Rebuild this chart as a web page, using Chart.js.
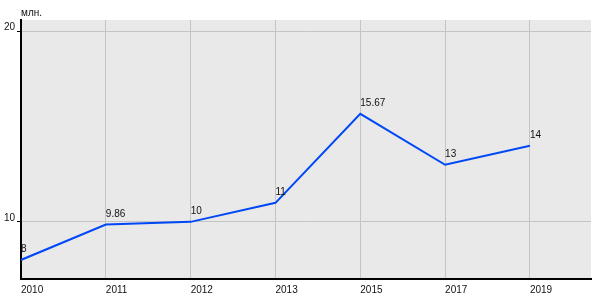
<!DOCTYPE html>
<html>
<head>
<meta charset="utf-8">
<script src="https://cdn.jsdelivr.net/npm/chart.js@4.4.1/dist/chart.umd.min.js"></script>
<style>
  html, body { margin: 0; padding: 0; background: #fff; }
  #wrap { width: 600px; height: 300px; }
</style>
</head>
<body>
<div id="wrap"><canvas id="revenueChart"></canvas></div>
<script>
// chart data
const years = ['2010', '2011', '2012', '2013', '2015', '2017', '2019'];
const values = [8, 9.86, 10, 11, 15.67, 13, 14];
const valueLabels = ['8', '9.86', '10', '11', '15.67', '13', '14'];
const yTicks = [10, 20];
const unitLabel = 'млн.';

const FONT = 'Liberation Sans, Arial, sans-serif';

// grey plot background + unit caption
const plotBackground = {
    id: 'plotBackground',
    beforeDraw(chart) {
        const { ctx, chartArea } = chart;
        ctx.save();
        ctx.fillStyle = '#e9e9e9';
        ctx.fillRect(chartArea.left, chartArea.top, chartArea.right - chartArea.left, chartArea.bottom - chartArea.top);
        ctx.fillStyle = '#111';
        ctx.font = '10px ' + FONT;
        ctx.textBaseline = 'middle';
        ctx.fillText(unitLabel, chartArea.left, chartArea.top - 7);
        ctx.restore();
    }
};

// value labels above each point
const pointLabels = {
    id: 'pointLabels',
    afterDatasetsDraw(chart) {
        const { ctx } = chart;
        const meta = chart.getDatasetMeta(0);
        ctx.save();
        ctx.fillStyle = '#111';
        ctx.font = '10px ' + FONT;
        ctx.textAlign = 'left';
        ctx.textBaseline = 'middle';
        meta.data.forEach((pt, i) => {
            ctx.fillText(valueLabels[i], pt.x, pt.y - 10.5);
        });
        ctx.restore();
    }
};

const ctx = document.getElementById('revenueChart').getContext('2d');
new Chart(ctx, {
    type: 'line',
    data: {
        datasets: [{
            data: values.map((v, i) => ({ x: i, y: v })),
            borderColor: '#0048f5',
            borderWidth: 2,
            pointRadius: 0,
            tension: 0,
            fill: false
        }]
    },
    options: {
        responsive: true,
        maintainAspectRatio: false,
        animation: false,
        layout: { padding: { top: 20, right: 9, left: 0, bottom: 0 } },
        plugins: {
            legend: { display: false },
            tooltip: { enabled: false }
        },
        scales: {
            x: {
                type: 'linear',
                min: 0,
                max: 6.72,
                afterBuildTicks: scale => { scale.ticks = years.map((y, i) => ({ value: i })); },
                afterFit: scale => { scale.height = 21; },
                grid: { color: '#c4c4c4', lineWidth: 1, drawTicks: false },
                border: { display: true, color: '#000', width: 2 },
                ticks: {
                    align: 'start',
                    padding: 5,
                    color: '#111',
                    font: { family: FONT, size: 10 },
                    callback: value => years[value]
                }
            },
            y: {
                min: 7,
                max: 20.6,
                afterBuildTicks: scale => { scale.ticks = yTicks.map(v => ({ value: v })); },
                afterFit: scale => { scale.width = 21; },
                grid: { color: '#c4c4c4', lineWidth: 1, drawTicks: true, tickLength: 4, tickColor: '#000' },
                border: { display: true, color: '#000', width: 2 },
                ticks: {
                    padding: 2,
                    color: '#111',
                    font: { family: FONT, size: 10, lineHeight: 0.8 },
                    callback: value => [String(value), '']
                }
            }
        }
    },
    plugins: [plotBackground, pointLabels]
});
</script>
</body>
</html>
